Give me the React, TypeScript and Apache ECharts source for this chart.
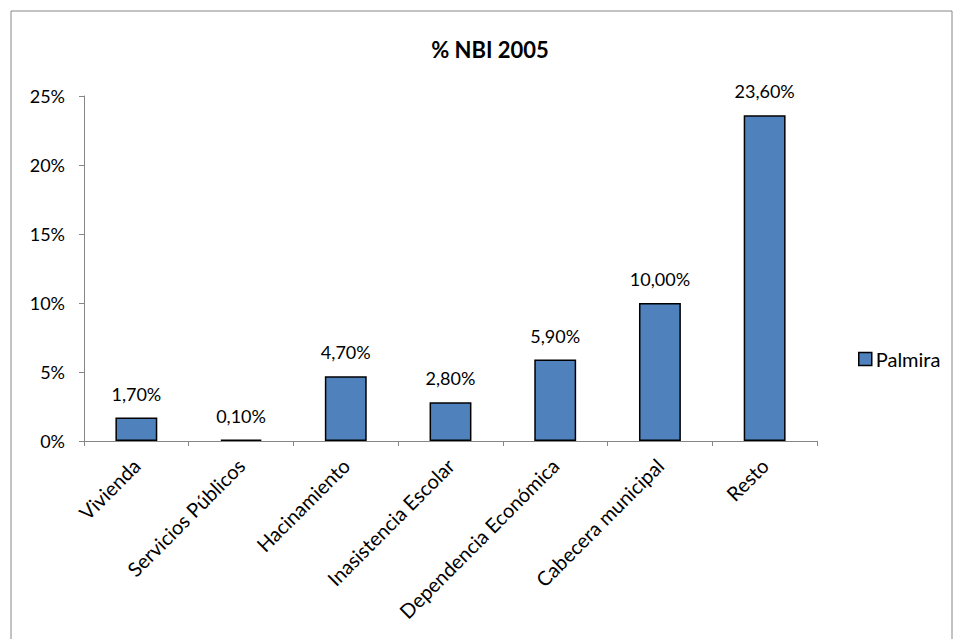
import React, { useEffect, useRef } from "react";
import * as echarts from "echarts";

const categories = [
  "Vivienda",
  "Servicios Públicos",
  "Hacinamiento",
  "Inasistencia Escolar",
  "Dependencia Económica",
  "Cabecera municipal",
  "Resto",
];
const seriesName = "Palmira";
const values = [1.7, 0.1, 4.7, 2.8, 5.9, 10.0, 23.6];
const titleText = "% NBI 2005";

const FONT = "Lato, 'Open Sans', sans-serif";

export default function App() {
  const ref = useRef<HTMLDivElement>(null);
  useEffect(() => {
    document.body.style.margin = "0";
    const chart = echarts.init(ref.current!, null, { renderer: "svg" });
    chart.setOption({
      animation: false,
      backgroundColor: "#ffffff",
      textStyle: { fontFamily: FONT },
      graphic: [
        {
          type: "rect",
          shape: { x: 11, y: 11, width: 941, height: 640 },
          style: { fill: "none", stroke: "#868686", lineWidth: 1 },
          silent: true,
        },
      ],
      title: {
        text: titleText,
        left: 485,
        textAlign: "center",
        top: 33,
        textStyle: { fontFamily: FONT, fontSize: 22, fontWeight: "bold", color: "#000" },
      },
      legend: {
        data: [seriesName],
        left: 853,
        top: 344,
        icon: "rect",
        itemWidth: 13,
        itemHeight: 13,
        itemGap: 4,
        itemStyle: { borderColor: "#000", borderWidth: 1.5 },
        textStyle: { fontFamily: FONT, fontSize: 20, color: "#000", padding: [0, 0, 0, -1] },
      },
      grid: { left: 84, right: 138, top: 96, bottom: 198, containLabel: false },
      xAxis: {
        type: "category",
        data: categories,
        axisLine: { lineStyle: { color: "#868686", width: 1 } },
        axisTick: { show: true, length: 5, lineStyle: { color: "#868686" } },
        axisLabel: {
          rotate: 45,
          interval: 0,
          margin: 21,
          fontFamily: FONT,
          fontSize: 20,
          color: "#000",
        },
      },
      yAxis: {
        type: "value",
        min: 0,
        max: 25,
        interval: 5,
        axisLine: { show: true, lineStyle: { color: "#868686", width: 1 } },
        axisTick: { show: true, length: 5, lineStyle: { color: "#868686" } },
        splitLine: { show: false },
        axisLabel: {
          formatter: (v: number) => `${v}%`,
          fontFamily: FONT,
          fontSize: 18,
          color: "#000",
          margin: 19,
        },
      },
      series: [
        {
          name: seriesName,
          type: "bar",
          data: values,
          barWidth: "40%",
          itemStyle: { color: "#4F81BD", borderColor: "#000", borderWidth: 1.5 },
          label: {
            show: true,
            position: "top",
            distance: 15,
            formatter: (p: any) => `${Number(p.value).toFixed(2).replace(".", ",")}%`,
            fontFamily: FONT,
            fontSize: 18,
            color: "#000",
          },
        },
      ],
    });
    return () => chart.dispose();
  }, []);
  return <div ref={ref} style={{ width: 955, height: 639 }} />;
}
